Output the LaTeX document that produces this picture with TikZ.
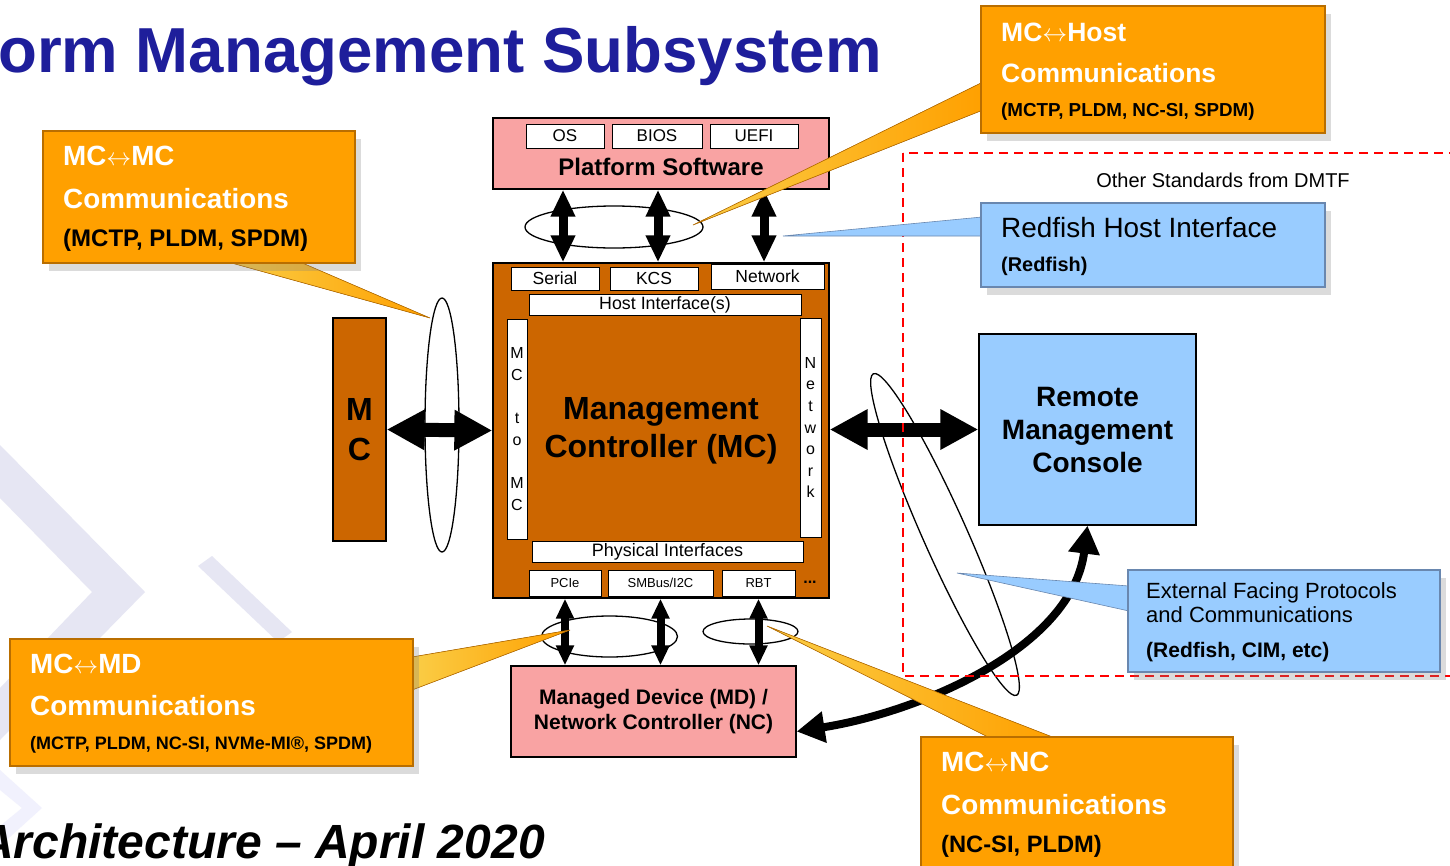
\documentclass[tikz,border=0pt]{standalone}
\usepackage{fontspec}
\setmainfont{Liberation Sans}
\usetikzlibrary{arrows.meta,shadows}

\definecolor{mcbrown}{RGB}{204,102,0}
\definecolor{swpink}{RGB}{249,163,163}
\definecolor{callorange}{RGB}{255,160,0}
\definecolor{calledge}{RGB}{185,110,0}
\definecolor{ptrgold}{RGB}{250,205,70}
\definecolor{rfblue}{RGB}{153,204,255}
\definecolor{rfedge}{RGB}{105,135,175}
\definecolor{titleblue}{RGB}{30,30,155}
\definecolor{wmark}{RGB}{230,230,243}

\newcommand{\fs}[1]{\fontsize{#1}{1.2\dimexpr#1pt\relax}\selectfont}
\newcommand{\lra}{\ensuremath{\leftrightarrow}}

\tikzset{
  box/.style={draw=black, line width=1.3pt, inner sep=0pt},
  wbox/.style={draw=black, fill=white, line width=1pt, inner sep=0pt},
  orangebox/.style={fill=callorange, draw=calledge, line width=1.2pt, inner sep=0pt,
    drop shadow={opacity=0.28, shadow xshift=6pt, shadow yshift=-8pt}},
  bluebox/.style={fill=rfblue, draw=rfedge, line width=1.2pt, inner sep=0pt,
    drop shadow={opacity=0.28, shadow xshift=6pt, shadow yshift=-8pt}},
  orangeptr/.style={left color=ptrgold, right color=callorange, draw=calledge, line width=0.6pt},
  blueptr/.style={fill=rfblue, draw=rfedge, line width=0.6pt},
  ctitle/.style={anchor=west, inner sep=0pt, text=white, font=\fs{27.8}\bfseries},
  cproto/.style={anchor=west, inner sep=0pt, font=\fs{21}\bfseries},
  vtext/.style={align=center, font=\fontsize{16}{21.6}\selectfont},
  dbltop/.style={line width=9pt, {Triangle[width=23pt,length=27pt]}-{Triangle[width=23pt,length=27pt]}},
  dblbot/.style={line width=8pt, {Triangle[width=17pt,length=20pt]}-{Triangle[width=17pt,length=20pt]}},
  dblbig/.style={line width=14pt, {Triangle[width=38pt,length=38pt]}-{Triangle[width=38pt,length=38pt]}},
}

\begin{document}
\begin{tikzpicture}[x=1pt, y=-1pt]
\useasboundingbox (0,0) rectangle (1450,865);
\fill[white] (0,0) rectangle (1450,865);

% watermark chevrons
\fill[wmark] (0,445) -- (145,592) -- (0,740) -- (0,688) -- (92,592) -- (0,498) -- cycle;
\fill[wmark] (198,566) -- (212,556) -- (292,632) -- (278,642) -- cycle;
\fill[wmark!80!blue!20] (0,770) -- (42,808) -- (0,846) -- (0,826) -- (22,808) -- (0,790) -- cycle;

% titles
\node[anchor=base west, inner sep=0pt, text=titleblue, font=\fs{63.6}\bfseries] (title) at (-2,72) {orm Management Subsystem};
\node[anchor=base west, inner sep=0pt, font=\fs{48}\bfseries\itshape] (arch) at (-21,858) {Architecture – April 2020};

% platform software
\node[box, fill=swpink, minimum width=336pt, minimum height=71pt] (ps) at (661,153.5) {};
\node[wbox, minimum width=78pt, minimum height=24pt, font=\fs{17}] (os) at (565,136) {OS};
\node[wbox, minimum width=90pt, minimum height=24pt, font=\fs{17}] (bios) at (657,136) {BIOS};
\node[wbox, minimum width=88pt, minimum height=24pt, font=\fs{17}] (uefi) at (754,136) {UEFI};
\node[font=\fs{24}\bfseries, inner sep=0pt] (pslabel) at (661,167) {Platform Software};

% management controller
\node[box, fill=mcbrown, minimum width=336pt, minimum height=335pt] (mc) at (661,430.5) {};
\node[wbox, minimum width=88pt, minimum height=23pt, font=\fs{17.5}] (serial) at (555,278.5) {Serial};
\node[wbox, minimum width=88pt, minimum height=23pt, font=\fs{17.5}] (kcs) at (654,278.5) {KCS};
\node[wbox, minimum width=113pt, minimum height=25pt, font=\fs{17.5}] (net) at (767.5,276.5) {Network};
\node[wbox, minimum width=272pt, minimum height=21pt, font=\fs{17.8}] (hostif) at (665,304.5) {Host Interface(s)};
\node[wbox, minimum width=20pt, minimum height=220pt, vtext] (m2m) at (517,429) {M\\C\\[21.6pt]t\\o\\[21.6pt]M\\C};
\node[wbox, minimum width=21pt, minimum height=219pt, vtext] (netv) at (810.5,427.5) {N\\e\\t\\w\\o\\r\\k};
\node[wbox, minimum width=271pt, minimum height=21pt, font=\fs{18}] (phys) at (667.5,551.5) {Physical Interfaces};
\node[wbox, minimum width=72pt, minimum height=26pt, font=\fs{13}] (pcie) at (565,583) {PCIe};
\node[wbox, minimum width=105pt, minimum height=26pt, font=\fs{13}] (smbus) at (660.5,583) {SMBus/I2C};
\node[wbox, minimum width=73pt, minimum height=26pt, font=\fs{13}] (rbt) at (758.5,583) {RBT};
\node[font=\fs{16}\bfseries, inner sep=0pt] (dots) at (810,582) {...};
\node[align=center, font=\fontsize{32}{38}\selectfont\bfseries] (mclabel) at (661,431) {Management\\Controller (MC)};

% other MC, managed device, console
\node[box, fill=mcbrown, minimum width=53pt, minimum height=223pt, align=center,
  font=\fontsize{32}{40}\selectfont\bfseries] (mcl) at (359.5,429.5) {M\\C};
\node[box, fill=swpink, minimum width=285pt, minimum height=91pt, align=center,
  font=\fontsize{21}{25}\selectfont\bfseries] (md) at (653.5,711.5) {Managed Device (MD) /\\Network Controller (NC)};
\node[box, fill=rfblue, minimum width=217pt, minimum height=191pt, align=center,
  font=\fontsize{28}{33}\selectfont\bfseries] (rmc) at (1087.5,429.5) {Remote\\Management\\Console};

% ellipses
\draw[line width=1.3pt] (614,227) ellipse [x radius=89, y radius=21];
\draw[line width=1.3pt] (442,425) ellipse [x radius=17, y radius=127];
\draw[line width=1.3pt] (609.5,636.5) ellipse [x radius=68, y radius=20.5];
\draw[line width=1.3pt] (750.5,631.5) ellipse [x radius=47.5, y radius=12.5];

% connectors
\coordinate (a1) at (563,0);
\coordinate (a2) at (658,0);
\coordinate (a3) at (764,0);
\foreach \c in {a1,a2,a3}
  \draw[dbltop] (\c |- ps.south) -- (\c |- mc.north);
\foreach \n in {pcie,smbus,rbt}
  \draw[dblbot] (\n.south |- mc.south) -- (\n.south |- md.north);
\draw[dblbig] (mcl.east) -- (mc.west);
\draw[dblbig] (mc.east |- rmc.west) -- (rmc.west);
\draw[line width=8pt, {Triangle[width=30pt,length=28pt]}-{Triangle[width=30pt,length=28pt]}]
  ([yshift=-20pt]md.east) .. controls (920,712) and (1072,648) .. (rmc.south);
\draw[line width=1.3pt, rotate around={-66:(945,534.5)}] (945,534.5) ellipse [x radius=176, y radius=22];

% other standards
\draw[red, line width=1.4pt, dash pattern=on 9pt off 6pt] (903,153) rectangle (1475,676);
\node[font=\fs{20}, inner sep=0pt] (dmtf) at (1223,180) {Other Standards from DMTF};

% callout pointers
\fill[orangeptr] (983,82) -- (693,225) -- (983,110) -- cycle;
\fill[orangeptr] (228,262) -- (430,318) -- (300,262) -- cycle;
\fill[orangeptr] (412,657) -- (570,630) -- (412,690) -- cycle;
\fill[orangeptr] (990,738) -- (767,626) -- (1055,738) -- cycle;
\fill[blueptr] (982,217) -- (783,236) -- (982,236) -- cycle;
\fill[blueptr] (1129,586) -- (957,573) -- (1129,611) -- cycle;

% callouts
\node[orangebox, minimum width=344pt, minimum height=127pt] (chost) at (1153,69.5) {};
\node[ctitle, font=\fs{26.5}\bfseries] at (1001,32) {MC\lra Host};
\node[ctitle, font=\fs{26.5}\bfseries] at (1001,73) {Communications};
\node[cproto, font=\fs{18.8}\bfseries] at (1001,112) {(MCTP, PLDM, NC-SI, SPDM)};

\node[orangebox, minimum width=312pt, minimum height=132pt] (cmc) at (199,197) {};
\node[ctitle] at (63,156) {MC\lra MC};
\node[ctitle] at (63,199) {Communications};
\node[cproto, font=\fs{24}\bfseries] at (63,240) {(MCTP, PLDM, SPDM)};

\node[orangebox, minimum width=403pt, minimum height=127pt] (cmd) at (211.5,702.5) {};
\node[ctitle] at (30,664) {MC\lra MD};
\node[ctitle] at (30,706) {Communications};
\node[cproto, font=\fs{18}\bfseries] at (30,745) {(MCTP, PLDM, NC-SI, NVMe-MI®, SPDM)};

\node[orangebox, minimum width=312pt, minimum height=150pt] (cnc) at (1077,812) {};
\node[ctitle] at (941,762) {MC\lra NC};
\node[ctitle] at (941,805) {Communications};
\node[cproto, font=\fs{23.7}\bfseries] at (941,846) {(NC-SI, PLDM)};

\node[bluebox, minimum width=344pt, minimum height=84pt] (credfish) at (1153,245) {};
\node[anchor=west, inner sep=0pt, font=\fs{27.9}] at (1001,228) {Redfish Host Interface};
\node[cproto, font=\fs{19.9}\bfseries] at (1001,266) {(Redfish)};

\node[bluebox, minimum width=312pt, minimum height=102pt] (cext) at (1284,621) {};
\node[anchor=west, inner sep=0pt, align=left, font=\fontsize{22}{24}\selectfont] at (1146,603) {External Facing Protocols\\and Communications};
\node[cproto, font=\fs{21}\bfseries] at (1146,652) {(Redfish, CIM, etc)};
\end{tikzpicture}
\end{document}
